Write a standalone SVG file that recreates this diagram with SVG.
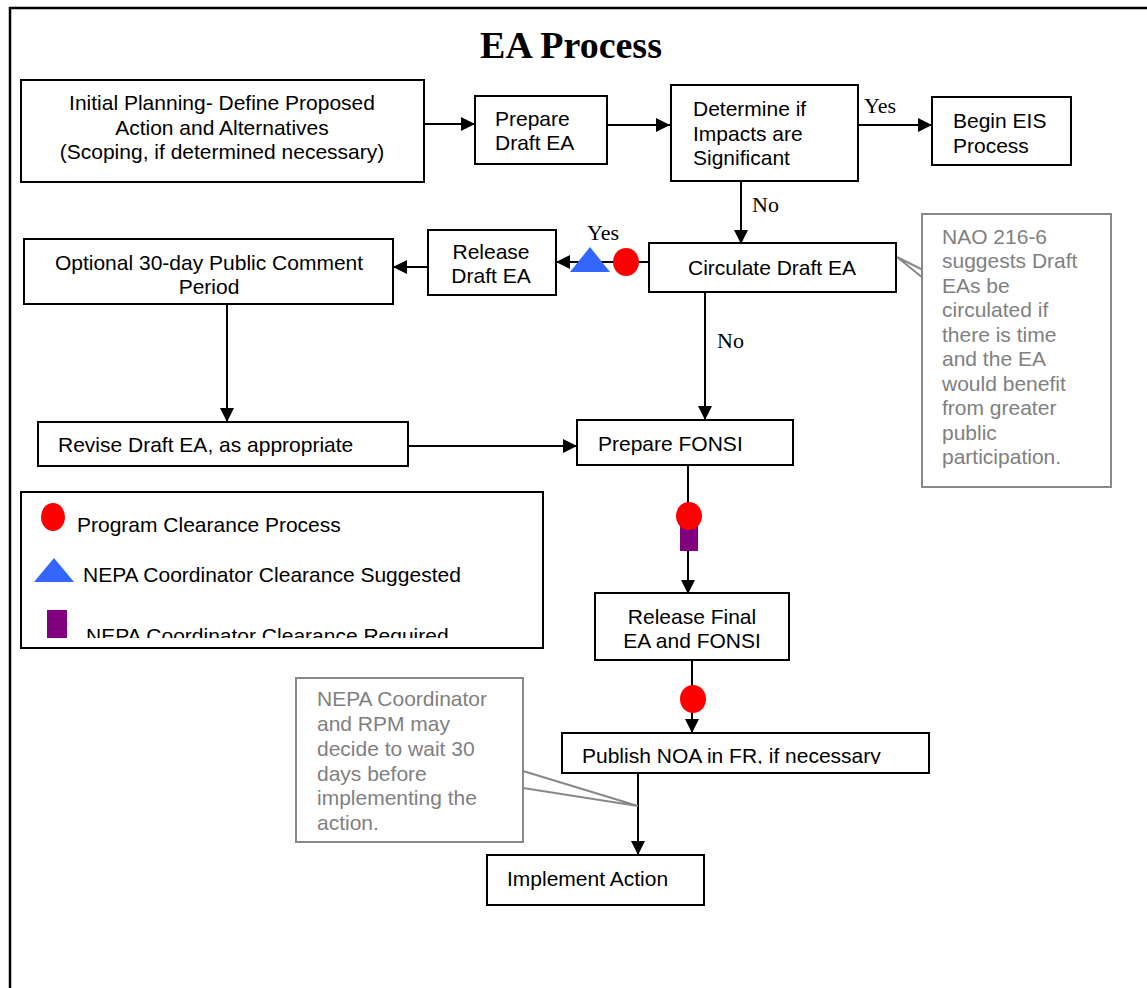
<svg xmlns="http://www.w3.org/2000/svg" width="1147" height="988" viewBox="0 0 1147 988">
<style>
.box{fill:#fff;stroke:#000;stroke-width:2}
.note{fill:#fff;stroke:#888;stroke-width:2}
.t{font-family:"Liberation Sans",Arial,sans-serif;font-size:21px;fill:#000}
.g{font-family:"Liberation Sans",Arial,sans-serif;font-size:21px;fill:#808080}
.lbl{font-family:"Liberation Serif","Times New Roman",serif;font-size:22px;fill:#000}
.c{stroke:#000;stroke-width:2;fill:none}
.cl{stroke:#888;stroke-width:2;fill:none}
.red{fill:#ff0000}
.blue{fill:#3366ff}
.purple{fill:#800080}
</style>
<defs>
<marker id="ah" markerWidth="14" markerHeight="14" refX="14" refY="7" orient="auto" markerUnits="userSpaceOnUse" viewBox="0 0 14 14">
<path d="M0,0 L14,7 L0,14 Z" fill="#000"/>
</marker>
<clipPath id="clipPub"><rect x="562" y="733" width="367" height="31"/></clipPath>
<clipPath id="clipLeg"><rect x="21" y="492" width="522" height="146"/></clipPath>
</defs>
<rect width="1147" height="988" fill="#fff"/>
<path d="M10,988 V8 H1147" stroke="#000" stroke-width="2.5" fill="none"/>
<text x="571" y="58" text-anchor="middle" font-family="Liberation Serif,'Times New Roman',serif" font-weight="bold" font-size="38">EA Process</text>

<g id="connectors">
<line class="c" x1="424" y1="124" x2="475" y2="124" marker-end="url(#ah)"/>
<line class="c" x1="607" y1="125" x2="670" y2="125" marker-end="url(#ah)"/>
<line class="c" x1="858" y1="125" x2="932" y2="125" marker-end="url(#ah)"/>
<text class="lbl" x="864" y="113">Yes</text>
<line class="c" x1="741" y1="181" x2="741" y2="244" marker-end="url(#ah)"/>
<text class="lbl" x="752" y="212">No</text>
<line class="c" x1="649" y1="262" x2="556" y2="262" marker-end="url(#ah)"/>
<text class="lbl" x="587" y="240">Yes</text>
<line class="c" x1="428" y1="267" x2="393" y2="267" marker-end="url(#ah)"/>
<line class="c" x1="227" y1="304" x2="227" y2="422" marker-end="url(#ah)"/>
<line class="c" x1="408" y1="446" x2="577" y2="446" marker-end="url(#ah)"/>
<line class="c" x1="705" y1="292" x2="705" y2="420" marker-end="url(#ah)"/>
<text class="lbl" x="717" y="348">No</text>
<line class="c" x1="688" y1="465" x2="688" y2="594" marker-end="url(#ah)"/>
<line class="c" x1="692" y1="660" x2="692" y2="733" marker-end="url(#ah)"/>
<line class="c" x1="638" y1="773" x2="638" y2="855" marker-end="url(#ah)"/>
<path class="cl" d="M897,257 L923,270 M897,257 L923,278"/>
<path class="cl" d="M523,771 L638,806 M523,788 L638,806"/>
</g>

<g id="markers">
<polygon class="blue" points="590,247 570,272 610,272"/>
<ellipse class="red" cx="626" cy="262" rx="13" ry="14"/>
<rect class="purple" x="680" y="526" width="18" height="25"/>
<ellipse class="red" cx="689" cy="516" rx="13" ry="14"/>
<ellipse class="red" cx="693" cy="699" rx="13" ry="14"/>
</g>

<g id="initial-planning">
<rect class="box" x="21" y="80" width="403" height="102"/>
<text class="t" x="222" y="110" text-anchor="middle">Initial Planning- Define Proposed</text>
<text class="t" x="222" y="135" text-anchor="middle">Action and Alternatives</text>
<text class="t" x="222" y="159" text-anchor="middle">(Scoping, if determined necessary)</text>
</g>
<g id="prepare-draft-ea">
<rect class="box" x="475" y="96" width="132" height="68"/>
<text class="t" x="495" y="126">Prepare</text>
<text class="t" x="495" y="150">Draft EA</text>
</g>
<g id="determine-impacts">
<rect class="box" x="671" y="85" width="187" height="96"/>
<text class="t" x="693" y="116">Determine if</text>
<text class="t" x="693" y="141">Impacts are</text>
<text class="t" x="693" y="165">Significant</text>
</g>
<g id="begin-eis">
<rect class="box" x="932" y="97" width="139" height="68"/>
<text class="t" x="953" y="128">Begin EIS</text>
<text class="t" x="953" y="153">Process</text>
</g>
<g id="circulate-draft-ea">
<rect class="box" x="649" y="243" width="247" height="49"/>
<text class="t" x="772" y="275" text-anchor="middle">Circulate Draft EA</text>
</g>
<g id="release-draft-ea">
<rect class="box" x="428" y="230" width="128" height="65"/>
<text class="t" x="491" y="259" text-anchor="middle">Release</text>
<text class="t" x="491" y="283" text-anchor="middle">Draft EA</text>
</g>
<g id="optional-comment">
<rect class="box" x="24" y="239" width="369" height="65"/>
<text class="t" x="209" y="270" text-anchor="middle">Optional 30-day Public Comment</text>
<text class="t" x="209" y="294" text-anchor="middle">Period</text>
</g>
<g id="revise-draft-ea">
<rect class="box" x="38" y="422" width="370" height="44"/>
<text class="t" x="58" y="452">Revise Draft EA, as appropriate</text>
</g>
<g id="prepare-fonsi">
<rect class="box" x="577" y="420" width="216" height="45"/>
<text class="t" x="598" y="451">Prepare FONSI</text>
</g>
<g id="nao-note">
<rect class="note" x="922" y="214" width="189" height="273"/>
<text class="g" x="942" y="244">NAO 216-6</text>
<text class="g" x="942" y="268">suggests Draft</text>
<text class="g" x="942" y="293">EAs be</text>
<text class="g" x="942" y="317">circulated if</text>
<text class="g" x="942" y="342">there is time</text>
<text class="g" x="942" y="366">and the EA</text>
<text class="g" x="942" y="391">would benefit</text>
<text class="g" x="942" y="415">from greater</text>
<text class="g" x="942" y="440">public</text>
<text class="g" x="942" y="464">participation.</text>
</g>
<g id="legend">
<rect class="box" x="21" y="492" width="522" height="156"/>
<g clip-path="url(#clipLeg)">
<ellipse class="red" cx="53" cy="517" rx="12" ry="14"/>
<text class="t" x="77" y="532">Program Clearance Process</text>
<polygon class="blue" points="54,558 34,582 74,582"/>
<text class="t" x="83" y="582">NEPA Coordinator Clearance Suggested</text>
<rect class="purple" x="47" y="610" width="20" height="28"/>
<text class="t" x="86" y="643">NEPA Coordinator Clearance Required</text>
</g>
</g>
<g id="release-final">
<rect class="box" x="595" y="593" width="194" height="67"/>
<text class="t" x="692" y="624" text-anchor="middle">Release Final</text>
<text class="t" x="692" y="648" text-anchor="middle">EA and FONSI</text>
</g>
<g id="publish-noa">
<rect class="box" x="562" y="733" width="367" height="40"/>
<text class="t" x="582" y="763" clip-path="url(#clipPub)">Publish NOA in FR, if necessary</text>
</g>
<g id="wait-note">
<rect class="note" x="296" y="678" width="227" height="164"/>
<text class="g" x="317" y="706">NEPA Coordinator</text>
<text class="g" x="317" y="731">and RPM may</text>
<text class="g" x="317" y="756">decide to wait 30</text>
<text class="g" x="317" y="781">days before</text>
<text class="g" x="317" y="805">implementing the</text>
<text class="g" x="317" y="830">action.</text>
</g>
<g id="implement-action">
<rect class="box" x="487" y="855" width="217" height="50"/>
<text class="t" x="507" y="886">Implement Action</text>
</g>
</svg>
